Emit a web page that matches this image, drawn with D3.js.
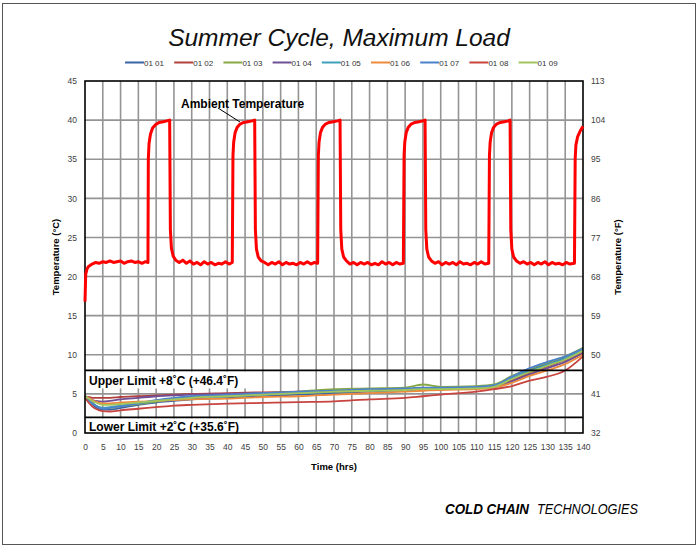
<!DOCTYPE html>
<html><head><meta charset="utf-8">
<script src="https://cdn.jsdelivr.net/npm/d3@7"></script>
<style>body{margin:0;background:#fff}svg{display:block;font-family:"Liberation Sans",Arial,sans-serif}</style>
</head><body>
<svg id="c" width="697" height="546"></svg>
<script>
// ---------- data ----------
const seriesNames = ["01 01","01 02","01 03","01 04","01 05","01 06","01 07","01 08","01 09"];
const seriesColors = ["#3B64A6","#B0403C","#86A844","#6E4F96","#3FA0BC","#EE8A3C","#4C82CC","#C8443F","#A2C45C"];
const sensorHours = [0,1,2,3,5,7,10,15,20,25,30,40,50,60,70,80,90,95,100,110,115,120,125,130,135,140];
const s0101 = [4.7,4.2,3.7,3.3,3.0,3.0,3.2,3.6,3.9,4.1,4.3,4.5,4.7,4.9,5.1,5.3,5.5,5.6,5.7,5.9,6.1,7.0,8.0,8.8,9.6,10.6];
const s0102 = [4.6,4.6,4.5,4.5,4.5,4.5,4.6,4.7,4.8,4.9,5.0,5.1,5.2,5.3,5.4,5.5,5.6,5.7,5.7,5.8,6.0,6.7,7.7,8.5,9.3,10.3];
const s0103 = [4.8,4.4,3.9,3.5,3.2,3.2,3.4,3.7,4.0,4.3,4.6,4.9,5.1,5.3,5.6,5.7,5.8,6.2,5.9,6.0,6.2,7.3,8.2,9.0,9.8,10.9];
const s0104 = [4.6,4.4,4.2,4.1,4.0,4.1,4.3,4.5,4.7,4.8,4.9,5.0,5.1,5.2,5.3,5.4,5.5,5.6,5.6,5.7,5.9,6.6,7.5,8.3,9.1,10.2];
const s0105 = [4.7,4.2,3.8,3.5,3.2,3.3,3.5,3.8,4.1,4.3,4.5,4.7,4.9,5.1,5.3,5.4,5.5,5.7,5.7,5.9,6.1,7.0,7.9,8.7,9.5,10.6];
const s0106 = [4.7,4.5,4.2,4.0,3.8,3.8,3.9,4.0,4.1,4.2,4.3,4.4,4.6,4.7,4.9,5.1,5.3,5.4,5.5,5.6,5.8,6.4,7.3,8.0,8.8,10.0];
const s0107 = [4.7,4.3,3.9,3.5,3.1,3.2,3.4,3.8,4.2,4.5,4.7,4.9,5.1,5.3,5.4,5.6,5.7,5.8,5.8,5.9,6.1,7.2,8.3,9.1,9.8,10.8];
const s0108 = [4.5,3.9,3.4,3.1,2.8,2.75,2.9,3.1,3.3,3.5,3.6,3.75,3.85,3.95,4.05,4.3,4.5,4.7,4.9,5.3,5.6,6.0,6.7,7.2,8.0,9.8];
const s0109 = [4.6,4.4,4.1,3.9,3.6,3.6,3.7,3.9,4.1,4.3,4.5,4.7,4.9,5.1,5.3,5.4,5.5,5.6,5.6,5.7,5.9,6.9,7.8,8.6,9.4,10.5];
const sensorValues = [s0101,s0102,s0103,s0104,s0105,s0106,s0107,s0108,s0109];

const ambientHours = [0,0.2,0.6,1,2,3,4,5,6,7,8,9,10,11,12,13,14,15,16,17,17.7,
 17.8,18.0,18.4,19.0,19.8,20.8,22,23,23.8,
 24.0,24.3,24.8,25.5,26.5,27.5,28.5,29.5,30.5,31.5,32.5,33.5,34.5,35.5,36.5,37.5,38.5,39.5,40.5,41.4,
 41.6,41.8,42.2,42.8,43.6,44.6,45.8,47,47.7,
 47.9,48.2,48.7,49.5,50.5,51.5,52.5,53.5,54.5,55.5,56.5,57.5,58.5,59.5,60.5,61.5,62.5,63.5,64.5,65.4,
 65.6,65.8,66.2,66.8,67.6,68.6,69.8,71,71.7,
 71.9,72.2,72.7,73.5,74.5,75.5,76.5,77.5,78.5,79.5,80.5,81.5,82.5,83.5,84.5,85.5,86.5,87.5,88.5,89.5,
 89.7,89.9,90.3,90.9,91.7,92.7,93.9,95,95.6,
 95.8,96.1,96.6,97.4,98.4,99.4,100.4,101.4,102.4,103.4,104.4,105.4,106.4,107.4,108.4,109.4,110.4,111.4,112.4,113.5,
 113.7,113.9,114.3,114.9,115.7,116.7,117.9,119,119.5,
 119.7,120.0,120.5,121.3,122.3,123.3,124.3,125.3,126.3,127.3,128.3,129.3,130.3,131.3,132.3,133.3,134.3,135.3,136.3,137.6,
 137.8,138.0,138.5,139.2,140];
const ambientTemps = [16.8,20.3,21.0,21.3,21.6,21.8,21.7,21.9,21.8,22.0,21.8,21.9,22.0,21.7,21.9,22.0,21.8,21.9,21.7,21.9,21.8,
 35.0,37.0,38.2,39.0,39.4,39.7,39.8,39.9,40.0,
 26.0,23.6,22.6,22.1,21.8,22.1,21.7,22.0,21.6,21.8,21.5,21.9,21.6,21.8,21.5,21.7,21.6,21.9,21.6,21.8,
 35.5,37.2,38.4,39.1,39.5,39.7,39.8,39.9,40.0,
 26.0,23.5,22.5,22.0,21.8,21.5,21.8,21.6,21.9,21.5,21.8,21.6,21.7,21.5,21.8,21.6,21.9,21.6,21.8,21.7,
 35.5,37.2,38.4,39.1,39.5,39.7,39.8,39.9,40.0,
 26.0,23.5,22.5,22.0,21.6,21.8,21.5,21.8,21.6,21.8,21.5,21.7,21.5,21.9,21.6,21.8,21.5,21.8,21.6,21.7,
 35.5,37.2,38.4,39.1,39.5,39.7,39.8,39.9,40.0,
 26.0,23.5,22.5,22.0,21.7,21.9,21.5,21.8,21.6,21.8,21.5,21.9,21.6,21.7,21.5,21.8,21.6,21.9,21.6,21.7,
 35.5,37.2,38.4,39.1,39.5,39.7,39.8,39.9,40.0,
 26.0,23.5,22.5,22.0,21.7,21.9,21.6,21.8,21.5,21.8,21.6,21.9,21.5,21.8,21.6,21.7,21.5,21.8,21.6,21.7,
 35.0,36.8,37.9,38.6,39.2];

const xTicks = d3.range(0,141,5);
const yTicksC = [0,5,10,15,20,25,30,35,40,45];
const yTicksF = [32,41,50,59,68,77,86,95,104,113];
const limits = [8,2];
const limitLabels = ["Upper Limit +8\u02DAC (+46.4\u02DAF)","Lower Limit +2\u02DAC (+35.6\u02DAF)"];

// ---------- drawing ----------
const svg = d3.select("#c");
const L=85,R=583,T=81,B=433;
const x = d3.scaleLinear([0,140],[L,R]);
const y = d3.scaleLinear([0,45],[B,T]);
const yF = d3.scaleLinear([32,113],[B,T]);

svg.append("rect").attr("x",2.5).attr("y",3.5).attr("width",693).attr("height",541)
  .attr("fill","none").attr("stroke","#555").attr("stroke-width",1);

svg.append("text").attr("x",339).attr("y",46).attr("text-anchor","middle")
  .attr("font-size",24.5).attr("font-style","italic").attr("fill","#111").text("Summer Cycle, Maximum Load");

// grid
const g = svg.append("g");
g.selectAll("line.v").data(xTicks.filter(d=>d>0&&d<140)).join("line")
  .attr("x1",d=>x(d)).attr("x2",d=>x(d)).attr("y1",T).attr("y2",B)
  .attr("stroke","#949494").attr("stroke-width",1.6);
g.selectAll("line.h").data(yTicksC.filter(d=>d>0&&d<45)).join("line")
  .attr("x1",L).attr("x2",R).attr("y1",d=>y(d)).attr("y2",d=>y(d))
  .attr("stroke","#949494").attr("stroke-width",1.6);

// sensor lines
const line = d3.line().x(d=>x(d[0])).y(d=>y(d[1])).curve(d3.curveMonotoneX);
sensorValues.forEach((vals,i)=>{
  svg.append("path").attr("d",line(sensorHours.map((h,j)=>[h,vals[j]])))
    .attr("fill","none").attr("stroke",seriesColors[i]).attr("stroke-width",1.8);
});

// limit labels with white boxes
limits.forEach((v,i)=>{
  const yy = y(v);
  const h = i===0 ? 17 : B-yy-1.5;
  svg.append("rect").attr("x",L+1).attr("y",yy+1).attr("width",161).attr("height",h).attr("fill","#fff");
  svg.append("text").attr("x",89).attr("y",i===0?yy+14.5:B-2.5).attr("font-size",12).attr("font-weight","bold")
    .attr("fill","#000").text(limitLabels[i]);
  svg.append("line").attr("x1",L).attr("x2",R).attr("y1",yy).attr("y2",yy)
    .attr("stroke","#000").attr("stroke-width",1.6);
});

// frame
svg.append("rect").attr("x",L).attr("y",T).attr("width",R-L).attr("height",B-T)
  .attr("fill","none").attr("stroke","#000").attr("stroke-width",1.6);

// ambient
svg.append("path").attr("d",d3.line().x(d=>x(d[0])).y(d=>y(d[1]))(ambientHours.map((h,j)=>[h,ambientTemps[j]])))
  .attr("fill","none").attr("stroke","#ff0000").attr("stroke-width",3).attr("stroke-linejoin","round");

// axes
const axL = svg.append("g").attr("transform",`translate(${L},0)`)
  .call(d3.axisLeft(y).tickValues(yTicksC).tickSize(0).tickPadding(8));
const axR = svg.append("g").attr("transform",`translate(${R},0)`)
  .call(d3.axisRight(yF).tickValues(yTicksF).tickSize(0).tickPadding(8));
const axB = svg.append("g").attr("transform",`translate(0,${B})`)
  .call(d3.axisBottom(x).tickValues(xTicks).tickSize(0).tickPadding(11));
[axL,axR,axB].forEach(a=>{
  a.select(".domain").remove();
  a.selectAll("text").attr("font-size",8.5).attr("fill","#404040").attr("font-family","Liberation Sans, Arial, sans-serif");
});

svg.append("text").attr("transform","translate(59,257) rotate(-90)").attr("text-anchor","middle")
  .attr("font-size",9.5).attr("font-weight","bold").attr("fill","#000").text("Temperature (\u00B0C)");
svg.append("text").attr("transform","translate(621,257) rotate(-90)").attr("text-anchor","middle")
  .attr("font-size",9.5).attr("font-weight","bold").attr("fill","#000").text("Temperature (\u00B0F)");
svg.append("text").attr("x",334).attr("y",470).attr("text-anchor","middle")
  .attr("font-size",9.5).attr("font-weight","bold").attr("fill","#000").text("Time (hrs)");

// legend
const lg = svg.append("g");
seriesNames.forEach((n,i)=>{
  const lx = 125 + i*49.2;
  lg.append("line").attr("x1",lx).attr("x2",lx+19).attr("y1",62.5).attr("y2",62.5)
    .attr("stroke",seriesColors[i]).attr("stroke-width",2);
  lg.append("text").attr("x",lx+19).attr("y",65.5).attr("font-size",8).attr("fill","#333").text(n);
});

// annotation
svg.append("line").attr("x1",218).attr("y1",108).attr("x2",240).attr("y2",122).attr("stroke","#000").attr("stroke-width",1);
svg.append("text").attr("x",181).attr("y",108).attr("font-size",12).attr("font-weight","bold").attr("fill","#000").text("Ambient Temperature");

// logo
svg.append("text").attr("x",445).attr("y",514).attr("font-size",14).attr("font-weight","bold").attr("font-style","italic")
  .attr("textLength",84).attr("lengthAdjust","spacingAndGlyphs").attr("fill","#000").text("COLD CHAIN");
svg.append("text").attr("x",537).attr("y",514).attr("font-size",14).attr("font-style","italic")
  .attr("textLength",101).attr("lengthAdjust","spacingAndGlyphs").attr("fill","#000").text("TECHNOLOGIES");
</script>
</body></html>
